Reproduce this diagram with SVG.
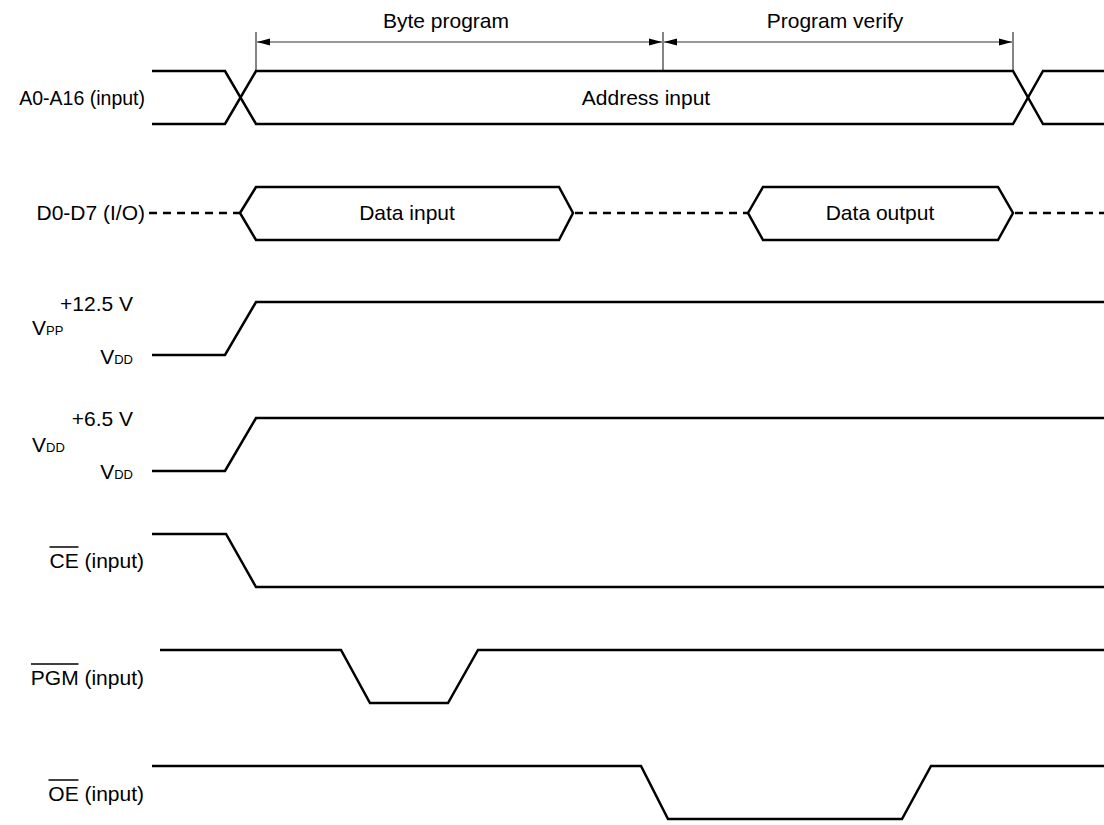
<svg xmlns="http://www.w3.org/2000/svg" width="1104" height="825" viewBox="0 0 1104 825">
<style>
text { font-family: "Liberation Sans", Arial, sans-serif; font-size: 21px; fill: #000; }
.r { text-anchor: end; }
.m { text-anchor: middle; }
.sig { fill: none; stroke: #000; stroke-width: 2.5; stroke-linejoin: miter; }
.dash { fill: none; stroke: #000; stroke-width: 2.5; stroke-dasharray: 8 6; }
.dim { fill: none; stroke: #333; stroke-width: 1.2; }
.ol { stroke: #000; stroke-width: 1.5; }
.sub { font-size: 13px; }
</style>
<defs>
<marker id="ah" markerWidth="14" markerHeight="8" refX="13" refY="4" orient="auto-start-reverse" markerUnits="userSpaceOnUse">
<path d="M0,0.5 L13,4 L0,7.5 Z" fill="#000"/>
</marker>
</defs>
<rect width="1104" height="825" fill="#fff"/>

<g id="dimensions">
<line class="dim" x1="256" y1="32" x2="256" y2="70"/>
<line class="dim" x1="663" y1="32" x2="663" y2="70"/>
<line class="dim" x1="1013" y1="32" x2="1013" y2="70"/>
<line class="dim" x1="257" y1="42" x2="662" y2="42" marker-start="url(#ah)" marker-end="url(#ah)"/>
<line class="dim" x1="664" y1="42" x2="1012" y2="42" marker-start="url(#ah)" marker-end="url(#ah)"/>
<text class="m" x="446" y="28">Byte program</text>
<text class="m" x="835" y="28">Program verify</text>
</g>

<g id="sig-address">
<text class="r" x="145" y="105" style="font-size:19.5px">A0-A16 (input)</text>
<path class="sig" d="M152,71 H225 L256,124 H1013 L1043,71 H1104"/>
<path class="sig" d="M152,124 H225 L256,71 H1013 L1043,124 H1104"/>
<text class="m" x="646" y="105">Address input</text>
</g>

<g id="sig-data">
<text class="r" x="145" y="220">D0-D7 (I/O)</text>
<line class="dash" x1="149" y1="213" x2="240" y2="213"/>
<path class="sig" d="M240,213 L256,187 H559 L573,213 L559,240 H256 Z"/>
<text class="m" x="407" y="220">Data input</text>
<line class="dash" x1="575" y1="213" x2="748" y2="213"/>
<path class="sig" d="M748,213 L763,187 H998 L1013,213 L998,240 H763 Z"/>
<text class="m" x="880" y="220">Data output</text>
<line class="dash" x1="1015" y1="213" x2="1104" y2="213"/>
</g>

<g id="sig-vpp">
<text class="r" x="133" y="311">+12.5 V</text>
<text x="32" y="335">V<tspan class="sub">PP</tspan></text>
<text class="r" x="133" y="364">V<tspan class="sub">DD</tspan></text>
<path class="sig" d="M152,355 H225 L256,302 H1104"/>
</g>

<g id="sig-vdd">
<text class="r" x="133" y="426">+6.5 V</text>
<text x="32" y="452">V<tspan class="sub">DD</tspan></text>
<text class="r" x="133" y="479">V<tspan class="sub">DD</tspan></text>
<path class="sig" d="M152,471 H225 L256,418 H1104"/>
</g>

<g id="sig-ce">
<text class="r" x="144" y="568">CE (input)</text>
<line class="ol" x1="49.5" y1="547" x2="78.5" y2="547"/>
<path class="sig" d="M152,534 H226 L256,587 H1104"/>
</g>

<g id="sig-pgm">
<text class="r" x="144" y="685">PGM (input)</text>
<line class="ol" x1="31" y1="664" x2="78.5" y2="664"/>
<path class="sig" d="M160,650 H341 L370,703 H448 L478,650 H1104"/>
</g>

<g id="sig-oe">
<text class="r" x="144" y="801">OE (input)</text>
<line class="ol" x1="48.5" y1="780" x2="78.5" y2="780"/>
<path class="sig" d="M152,766 H641 L668,819 H902 L931,766 H1104"/>
</g>
</svg>
